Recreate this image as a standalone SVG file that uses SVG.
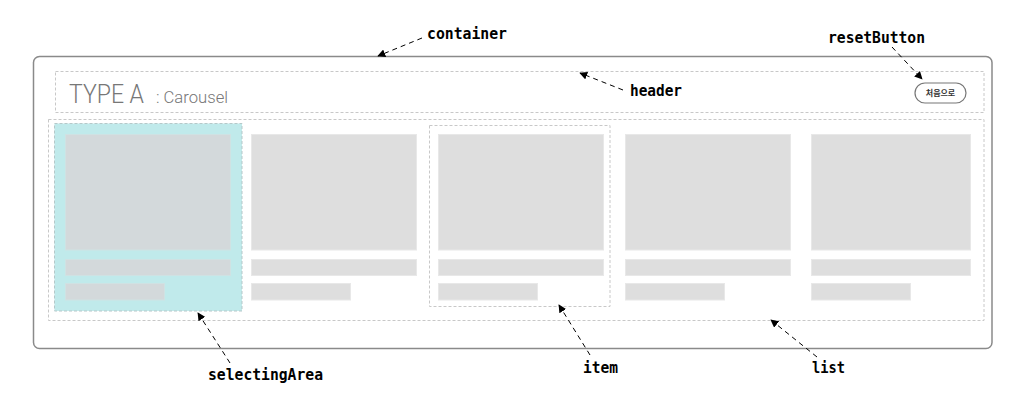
<svg xmlns="http://www.w3.org/2000/svg" width="1024" height="400" viewBox="0 0 1024 400">
  <defs>
    <marker id="arr" viewBox="0 0 10 10" refX="9" refY="5" markerWidth="8" markerHeight="8" orient="auto" markerUnits="userSpaceOnUse">
      <path d="M0,0 L10,5 L0,10 z" fill="#000"/>
    </marker>
    <style>
      .dash { fill: none; stroke: #c8c8c8; stroke-width: 1; stroke-dasharray: 3 2; }
      .img { fill: #dedede; stroke: #e8e8e8; stroke-width: 1; }
      .img-sel { fill: #d3d9db; stroke: #cfe2e3; stroke-width: 1; }
      .lbl { font-family: "DejaVu Sans Mono", "Liberation Mono", monospace; font-size: 16px; font-weight: bold; fill: #000; }
      .conn { fill: none; stroke: #000; stroke-width: 1; stroke-dasharray: 5 4; marker-end: url(#arr); }
    </style>
  </defs>
  <rect width="1024" height="400" fill="#fff"/>

  <g id="container">
    <rect x="33.5" y="56.5" width="958.5" height="292" rx="6" ry="6" fill="#fff" stroke="#8a8a8a" stroke-width="1.5"/>
  </g>

  <g id="header">
    <rect class="dash" x="55.5" y="71.5" width="928.5" height="41"/>
    <text x="69" y="103" font-family="Roboto, 'Liberation Sans', sans-serif" font-weight="300" font-size="25" fill="#777" textLength="75" lengthAdjust="spacingAndGlyphs">TYPE A</text>
    <text x="156" y="103" font-family="Roboto, 'Liberation Sans', sans-serif" font-weight="300" font-size="17" fill="#777" textLength="72" lengthAdjust="spacingAndGlyphs">: Carousel</text>
  </g>

  <g id="resetButton">
    <rect x="915" y="83" width="51" height="20" rx="10" ry="10" fill="#fff" stroke="#777" stroke-width="1.2"/>
    <text x="940.5" y="96" text-anchor="middle" font-family="'Noto Sans CJK KR', sans-serif" font-weight="bold" font-size="8" fill="#333">처음으로</text>
  </g>

  <g id="list">
    <rect class="dash" x="48.5" y="119.5" width="935.5" height="201"/>
  </g>

  <g id="selectingArea">
    <rect x="54.5" y="123.5" width="187.5" height="187.5" fill="#c0eaeb" stroke="#b5c8c9" stroke-width="1" stroke-dasharray="3 2"/>
  </g>

  <g id="item1">
    <rect class="img-sel" x="65.5" y="134.5" width="165" height="115.5"/>
    <rect class="img-sel" x="65.5" y="259.5" width="165" height="16"/>
    <rect class="img-sel" x="65.5" y="283.5" width="99" height="16.5"/>
  </g>

  <g id="item2">
    <rect class="img" x="251.5" y="134.5" width="165" height="115.5"/>
    <rect class="img" x="251.5" y="259.5" width="165" height="16"/>
    <rect class="img" x="251.5" y="283.5" width="99" height="16.5"/>
  </g>

  <g id="item">
    <rect class="dash" x="429.5" y="125.5" width="180.5" height="181"/>
    <rect class="img" x="438.5" y="134.5" width="165" height="115.5"/>
    <rect class="img" x="438.5" y="259.5" width="165" height="16"/>
    <rect class="img" x="438.5" y="283.5" width="99" height="16.5"/>
  </g>

  <g id="item4">
    <rect class="img" x="625.5" y="134.5" width="165" height="115.5"/>
    <rect class="img" x="625.5" y="259.5" width="165" height="16"/>
    <rect class="img" x="625.5" y="283.5" width="99" height="16.5"/>
  </g>

  <g id="item5">
    <rect class="img" x="811.5" y="134.5" width="159" height="115.5"/>
    <rect class="img" x="811.5" y="259.5" width="159" height="16"/>
    <rect class="img" x="811.5" y="283.5" width="99" height="16.5"/>
  </g>

  <g id="connectors">
    <line class="conn" x1="422" y1="38" x2="378" y2="56"/>
    <line class="conn" x1="623" y1="90" x2="580" y2="73"/>
    <line class="conn" x1="892" y1="47" x2="922" y2="79"/>
    <line class="conn" x1="230" y1="363" x2="198" y2="313"/>
    <line class="conn" x1="590" y1="355" x2="559" y2="305"/>
    <line class="conn" x1="817" y1="357" x2="771" y2="320"/>
  </g>

  <g id="labels">
    <text class="lbl" x="427" y="39" textLength="80" lengthAdjust="spacingAndGlyphs">container</text>
    <text class="lbl" x="630" y="96" textLength="52" lengthAdjust="spacingAndGlyphs">header</text>
    <text class="lbl" x="828" y="43" textLength="97" lengthAdjust="spacingAndGlyphs">resetButton</text>
    <text class="lbl" x="208" y="380" textLength="115" lengthAdjust="spacingAndGlyphs">selectingArea</text>
    <text class="lbl" x="583" y="373" textLength="35" lengthAdjust="spacingAndGlyphs">item</text>
    <text class="lbl" x="812" y="373" textLength="33" lengthAdjust="spacingAndGlyphs">list</text>
  </g>
</svg>
